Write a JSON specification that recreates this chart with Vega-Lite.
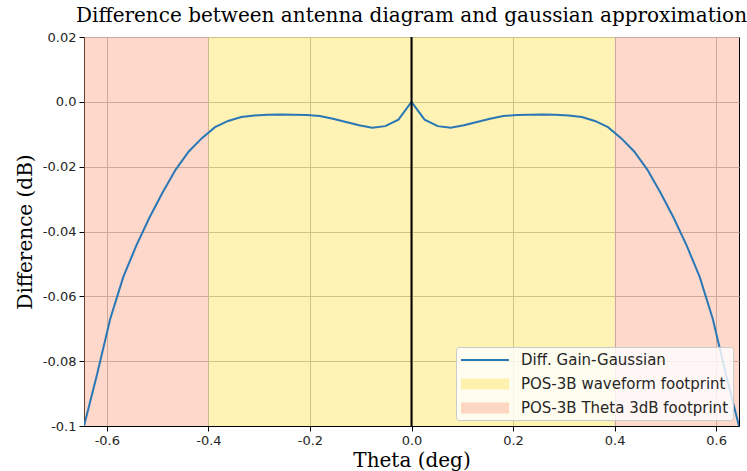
{
  "$schema": "https://vega.github.io/schema/vega-lite/v6.json",
  "width": 655,
  "height": 389,
  "autosize": {"type": "none"},
  "padding": {"left": 84, "top": 37, "right": 8, "bottom": 45},
  "background": "white",
  "title": {"text": "Difference between antenna diagram and gaussian approximation", "font": "DejaVu Serif", "fontSize": 20, "fontWeight": "normal", "color": "black", "offset": 5, "anchor": "middle"},
  "config": {
    "view": {"stroke": "black", "strokeWidth": 1},
    "axis": {"labelFont": "DejaVu Sans", "labelFontSize": 13, "labelColor": "#262626", "titleFont": "DejaVu Serif", "titleFontSize": 20, "titleFontWeight": "normal", "titleColor": "black", "tickColor": "black", "tickSize": 5, "domainColor": "black", "gridColor": "#b0b0b0", "gridWidth": 1, "labelPadding": 3, "labelFlush": false, "labelOverlap": false}
  },
  "datasets": {
    "spans": [
      {"x1": -0.645, "x2": -0.4, "series": "POS-3B Theta 3dB footprint"},
      {"x1": 0.4, "x2": 0.645, "series": "POS-3B Theta 3dB footprint"},
      {"x1": -0.4, "x2": 0.4, "series": "POS-3B waveform footprint"}
    ],
    "curve": [
      {"theta": -0.645, "diff": -0.1},
      {"theta": -0.6192, "diff": -0.084},
      {"theta": -0.5934, "diff": -0.067},
      {"theta": -0.5676, "diff": -0.054},
      {"theta": -0.5418, "diff": -0.0443},
      {"theta": -0.516, "diff": -0.0357},
      {"theta": -0.4902, "diff": -0.028},
      {"theta": -0.4644, "diff": -0.0209},
      {"theta": -0.4386, "diff": -0.0153},
      {"theta": -0.4128, "diff": -0.0112},
      {"theta": -0.387, "diff": -0.0078},
      {"theta": -0.3612, "diff": -0.0059},
      {"theta": -0.3354, "diff": -0.0047},
      {"theta": -0.3096, "diff": -0.0042},
      {"theta": -0.2838, "diff": -0.004},
      {"theta": -0.258, "diff": -0.0039},
      {"theta": -0.2322, "diff": -0.004},
      {"theta": -0.2064, "diff": -0.0041},
      {"theta": -0.1806, "diff": -0.0044},
      {"theta": -0.1548, "diff": -0.0052},
      {"theta": -0.129, "diff": -0.0062},
      {"theta": -0.1032, "diff": -0.0072},
      {"theta": -0.0774, "diff": -0.008},
      {"theta": -0.0516, "diff": -0.0075},
      {"theta": -0.0258, "diff": -0.0055},
      {"theta": 0, "diff": 0},
      {"theta": 0.0258, "diff": -0.0055},
      {"theta": 0.0516, "diff": -0.0075},
      {"theta": 0.0774, "diff": -0.008},
      {"theta": 0.1032, "diff": -0.0072},
      {"theta": 0.129, "diff": -0.0062},
      {"theta": 0.1548, "diff": -0.0052},
      {"theta": 0.1806, "diff": -0.0044},
      {"theta": 0.2064, "diff": -0.0041},
      {"theta": 0.2322, "diff": -0.004},
      {"theta": 0.258, "diff": -0.0039},
      {"theta": 0.2838, "diff": -0.004},
      {"theta": 0.3096, "diff": -0.0042},
      {"theta": 0.3354, "diff": -0.0047},
      {"theta": 0.3612, "diff": -0.0059},
      {"theta": 0.387, "diff": -0.0078},
      {"theta": 0.4128, "diff": -0.0112},
      {"theta": 0.4386, "diff": -0.0153},
      {"theta": 0.4644, "diff": -0.0209},
      {"theta": 0.4902, "diff": -0.028},
      {"theta": 0.516, "diff": -0.0357},
      {"theta": 0.5418, "diff": -0.0443},
      {"theta": 0.5676, "diff": -0.054},
      {"theta": 0.5934, "diff": -0.067},
      {"theta": 0.6192, "diff": -0.084},
      {"theta": 0.645, "diff": -0.1}
    ],
    "zero": [{"theta": 0}]
  },
  "layer": [
    {
      "data": {"name": "spans"},
      "mark": {"type": "rect", "opacity": 0.4},
      "encoding": {
        "x": {"field": "x1", "type": "quantitative", "scale": {"domain": [-0.645, 0.645], "nice": false, "zero": false},
          "axis": {"title": "Theta (deg)", "values": [-0.6, -0.4, -0.2, 0, 0.2, 0.4, 0.6], "titlePadding": 3,
            "labelExpr": "(datum.value < -0.001 ? '-' : '') + format(abs(datum.value), '.1f')"}},
        "x2": {"field": "x2"},
        "color": {"field": "series", "type": "nominal",
          "scale": {"domain": ["Diff. Gain-Gaussian", "POS-3B waveform footprint", "POS-3B Theta 3dB footprint"], "range": ["#2a77b6", "#fcde44", "#fa9e7d"]},
          "legend": {
            "title": null, "orient": "bottom-right", "offset": 6,
            "fillColor": "rgba(255,255,255,0.8)", "strokeColor": "#cccccc", "cornerRadius": 3, "padding": 4,
            "symbolSize": 256, "labelOffset": 43, "labelFont": "DejaVu Sans", "labelFontSize": 15, "labelColor": "#262626",
            "labelLimit": 400, "rowPadding": 7,
            "encode": {"symbols": {"update": {
              "shape": {"signal": "datum.value === 'Diff. Gain-Gaussian' ? 'M-1,0H5' : 'M-1,-0.69H5V0.69H-1Z'"},
              "strokeWidth": {"value": 2},
              "opacity": {"value": 1},
              "fillOpacity": {"signal": "datum.value === 'Diff. Gain-Gaussian' ? 0 : 0.4"},
              "strokeOpacity": {"signal": "datum.value === 'Diff. Gain-Gaussian' ? 1 : 0"}
            }}}
          }}
      }
    },
    {
      "data": {"name": "curve"},
      "mark": {"type": "line", "strokeWidth": 2, "clip": true},
      "encoding": {
        "x": {"field": "theta", "type": "quantitative"},
        "y": {"field": "diff", "type": "quantitative", "scale": {"domain": [-0.1, 0.02], "nice": false, "zero": false},
          "axis": {"title": "Difference (dB)", "values": [-0.1, -0.08, -0.06, -0.04, -0.02, 0, 0.02], "titlePadding": 7,
            "labelExpr": "(datum.value > -0.001 && datum.value < 0.001) ? '0.0' : (datum.value < -0.099 ? '-0.1' : (datum.value < 0 ? '-' : '') + format(abs(datum.value), '.2f'))"}},
        "color": {"datum": "Diff. Gain-Gaussian",
          "legend": {
            "title": null, "orient": "bottom-right", "offset": 6,
            "fillColor": "rgba(255,255,255,0.8)", "strokeColor": "#cccccc", "cornerRadius": 3, "padding": 4,
            "symbolSize": 256, "labelOffset": 43, "labelFont": "DejaVu Sans", "labelFontSize": 15, "labelColor": "#262626",
            "labelLimit": 400, "rowPadding": 7,
            "encode": {"symbols": {"update": {
              "shape": {"signal": "datum.value === 'Diff. Gain-Gaussian' ? 'M-1,0H5' : 'M-1,-0.69H5V0.69H-1Z'"},
              "strokeWidth": {"value": 2},
              "opacity": {"value": 1},
              "fillOpacity": {"signal": "datum.value === 'Diff. Gain-Gaussian' ? 0 : 0.4"},
              "strokeOpacity": {"signal": "datum.value === 'Diff. Gain-Gaussian' ? 1 : 0"}
            }}}
          }}
      }
    },
    {
      "data": {"name": "zero"},
      "mark": {"type": "rule", "color": "black", "strokeWidth": 2},
      "encoding": {"x": {"field": "theta", "type": "quantitative"}}
    }
  ]
}
